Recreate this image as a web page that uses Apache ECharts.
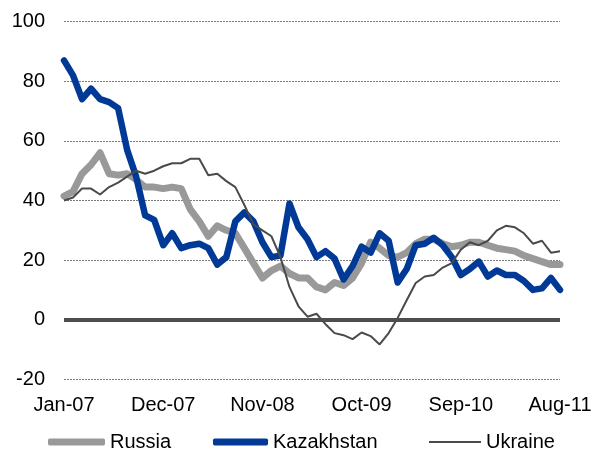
<!DOCTYPE html>
<html>
<head>
<meta charset="utf-8">
<script src="https://cdn.jsdelivr.net/npm/echarts@6/dist/echarts.min.js"></script>
<style>html,body{margin:0;padding:0;background:#fff}#c{width:608px;height:453px}</style>
</head>
<body>
<div id="c"></div>
<script>
var months = ["Jan-07","Feb-07","Mar-07","Apr-07","May-07","Jun-07","Jul-07","Aug-07","Sep-07","Oct-07","Nov-07","Dec-07",
"Jan-08","Feb-08","Mar-08","Apr-08","May-08","Jun-08","Jul-08","Aug-08","Sep-08","Oct-08","Nov-08","Dec-08",
"Jan-09","Feb-09","Mar-09","Apr-09","May-09","Jun-09","Jul-09","Aug-09","Sep-09","Oct-09","Nov-09","Dec-09",
"Jan-10","Feb-10","Mar-10","Apr-10","May-10","Jun-10","Jul-10","Aug-10","Sep-10","Oct-10","Nov-10","Dec-10",
"Jan-11","Feb-11","Mar-11","Apr-11","May-11","Jun-11","Jul-11","Aug-11"];

var russia = [41.5,43,49,52,56,49,48.5,49,47,44.5,44.5,44,44.5,44,37,33,28,31.5,30,29,24,19,14,16.5,18,15.5,14,14,11,10,12.5,11.5,14,19,26,24,21.5,21,22.5,25.5,27,27,25.5,24.5,25,26,26,25,24,23.5,23,21.5,20.5,19.5,18.5,18.5];

var kazakhstan = [87,82,74,77.5,74,73,71,57,48,35,33.5,25,29,24,25,25.5,24,18.5,21,33,36,33,26,21,21.5,39,31,27,21,23,20.5,13.5,18,24.5,22.5,29,26.5,12.5,17,25,25.5,27.5,25,21,15,17,19.5,14.5,16.5,15,15,13,10,10.5,14,10];

var ukraine = [40,41,44,44,42,44.5,46,48,50,49,50,51.5,52.5,52.5,54,54,48.5,49,46.5,44.5,38.5,32,30,28,21,11,4.5,1,2,-1.5,-4.5,-5.2,-6.5,-4.3,-5.5,-8.3,-4.5,0.6,6.5,12.3,14.5,15,17.5,19,23.5,26,25,26.5,30,31.5,31,29,25.5,26.5,22.5,23];

var yTicks = {min: -20, max: 100, interval: 20};

var FONT = "'Liberation Sans', Arial, sans-serif";
var chart = echarts.init(document.getElementById('c'), null, {renderer: 'canvas'});

function legendFor(name, left, w, h, icon) {
  return {
    data: [{name: name, icon: icon}],
    left: left, top: 432, padding: 0,
    itemWidth: w, itemHeight: h,
    itemStyle: {borderWidth: 0},
    selectedMode: false,
    textStyle: {fontFamily: FONT, fontSize: 20, color: '#000', lineHeight: 20}
  };
}

chart.setOption({
  animation: false,
  backgroundColor: '#fff',
  grid: {left: 64, right: 48, top: 21.7, bottom: 73.7, containLabel: false},
  legend: [
    legendFor('Russia', 48, 57, 7, 'roundRect'),
    legendFor('Kazakhstan', 213, 55, 7, 'roundRect'),
    legendFor('Ukraine', 429, 52, 2, 'rect')
  ],
  xAxis: {
    type: 'category', data: months, boundaryGap: false,
    axisLine: {show: false}, axisTick: {show: false},
    axisLabel: {interval: 10, fontFamily: FONT, fontSize: 20, color: '#000', margin: 16},
    splitLine: {show: false}
  },
  yAxis: {
    type: 'value', min: yTicks.min, max: yTicks.max, interval: yTicks.interval,
    axisLine: {show: false}, axisTick: {show: false},
    axisLabel: {fontFamily: FONT, fontSize: 20, color: '#000', margin: 19},
    splitLine: {lineStyle: {color: '#7a7a7a', width: 1, type: [2, 1]}}
  },
  series: [
    {name: 'Russia', type: 'line', data: russia, symbol: 'none', color: '#999999',
     lineStyle: {width: 7, color: '#999999', join: 'round', cap: 'round'}, z: 2,
     markLine: {silent: true, symbol: ['none', 'none'], label: {show: false},
       lineStyle: {color: '#514c4c', width: 4, type: 'solid'},
       data: [{yAxis: 0}]}},
    {name: 'Kazakhstan', type: 'line', data: kazakhstan, symbol: 'none', color: '#003a96',
     lineStyle: {width: 6.5, color: '#003a96', join: 'round', cap: 'round'}, z: 3},
    {name: 'Ukraine', type: 'line', data: ukraine, symbol: 'none', color: '#4a4a4a',
     lineStyle: {width: 2, color: '#4a4a4a'}, z: 4}
  ]
});
</script>
</body>
</html>
